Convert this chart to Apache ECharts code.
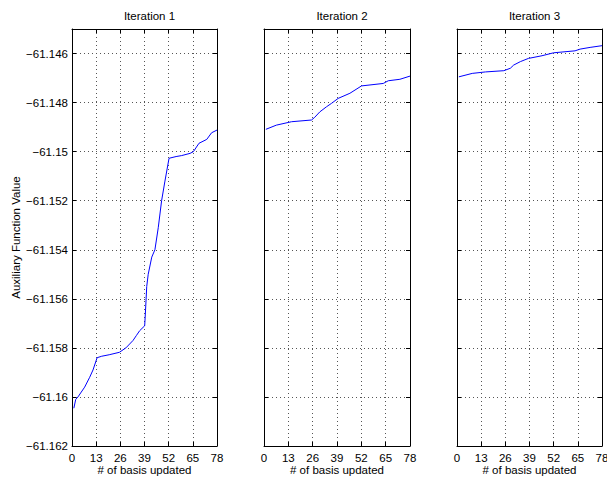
<!DOCTYPE html>
<html>
<head>
<meta charset="utf-8">
<title>Auxiliary Function Value per Iteration</title>
<script src="https://cdn.jsdelivr.net/npm/echarts@6/dist/echarts.min.js"></script>
<style>
  html, body { margin: 0; padding: 0; background: #fff; }
  #chart { width: 607px; height: 477px; }
</style>
</head>
<body>
<div id="chart"></div>
<script>
// Panel titles and axis text
const panelTitles = ['Iteration 1', 'Iteration 2', 'Iteration 3'];
const xAxisTitle = '# of basis updated';
const yAxisTitle = 'Auxiliary Function Value';

// Shared axis ranges
const xTicks = [0, 13, 26, 39, 52, 65, 78];
const yMin = -61.162;
const yMax = -61.145;
const yStep = 0.002;

// Iteration 1: number of bases updated vs. objective value
const iter1X = [1, 2, 3.2, 5, 6.8, 9.5, 11.3, 13.5, 16, 20, 25.5, 29, 32.8, 34.6, 36.4, 39.1, 39.4, 40.2, 41, 42.9, 44.6, 46.4, 48.2, 50, 52.2, 56, 59, 63.5, 65.3, 68.3, 72.5, 75.1, 78];
const iter1Y = [-61.16046, -61.1601, -61.16, -61.1598, -61.1596, -61.1592, -61.1589, -61.1584, -61.15834, -61.15828, -61.15818, -61.158, -61.1577, -61.1575, -61.1573, -61.1571, -61.1567, -61.1555, -61.155, -61.1543, -61.154, -61.1531, -61.152, -61.1512, -61.15027, -61.1502, -61.15016, -61.15007, -61.15, -61.14966, -61.1495, -61.14923, -61.14912];

// Iteration 2
const iter2X = [1, 6.6, 14.7, 25.4, 27.1, 29.8, 33.4, 36.1, 39.6, 45.9, 52.1, 63.7, 66.4, 72.6, 78];
const iter2Y = [-61.14909, -61.14892, -61.14878, -61.14871, -61.1486, -61.14838, -61.14817, -61.14803, -61.14783, -61.14762, -61.14732, -61.14722, -61.14711, -61.14705, -61.14692];

// Iteration 3
const iter3X = [1, 8.2, 15.3, 25.2, 28.7, 30.5, 34.1, 38.4, 45.7, 52, 63.5, 66.2, 71.6, 78];
const iter3Y = [-61.14695, -61.14681, -61.14675, -61.1467, -61.1466, -61.14647, -61.14633, -61.1462, -61.14609, -61.14597, -61.14589, -61.14582, -61.14575, -61.14568];

const seriesX = [iter1X, iter2X, iter3X];
const seriesY = [iter1Y, iter2Y, iter3Y];

const FONT = '"Liberation Sans", Arial, Helvetica, sans-serif';
const FONT_SIZE = 11.5;

// Plot boxes (left, width) for the three panels
const panelLeft = [72, 264, 457];
const panelWidth = [145, 146, 145];
const panelTop = 29;
const panelHeight = 417;

function yLabel(v) {
  const k = Math.round((v - yMin) / yStep);
  if (Math.abs(yMin + k * yStep - v) > 1e-7) return '';
  const s = String(Number(Math.abs(v).toFixed(3)));
  return (v < 0 ? '\u2212' : '') + s;
}

const tickStyle = { inside: true, length: 4, lineStyle: { color: '#000', width: 1 } };
const axisLineStyle = { show: true, onZero: false, lineStyle: { color: '#000', width: 1 } };
const gridDots = { show: true, lineStyle: { color: '#555', width: 1, type: [1, 3] } };

const grids = [], xAxes = [], yAxes = [], series = [], titles = [];

for (let i = 0; i < 3; i++) {
  // fixed plot box; labels may sit outside it without shrinking the grid
  grids.push({
    left: panelLeft[i], top: panelTop, width: panelWidth[i], height: panelHeight,
    containLabel: false, outerBoundsMode: 'none'
  });

  titles.push({
    text: panelTitles[i],
    left: panelLeft[i] + panelWidth[i] / 2,
    top: 5,
    textAlign: 'center',
    textStyle: { fontFamily: FONT, fontSize: FONT_SIZE, fontWeight: 'normal', color: '#000' }
  });

  // bottom x axis with labels and dotted grid
  xAxes.push({
    type: 'value', gridIndex: i, position: 'bottom',
    min: xTicks[0], max: xTicks[xTicks.length - 1], interval: xTicks[1] - xTicks[0],
    axisLine: axisLineStyle, axisTick: tickStyle, splitLine: gridDots,
    axisLabel: { color: '#000', fontFamily: FONT, fontSize: FONT_SIZE, margin: 6 },
    name: xAxisTitle, nameLocation: 'middle', nameGap: 18, nameMoveOverlap: false,
    nameTextStyle: { color: '#000', fontFamily: FONT, fontSize: FONT_SIZE }
  });
  // top mirror axis (ticks only)
  xAxes.push({
    type: 'value', gridIndex: i, position: 'top',
    min: xTicks[0], max: xTicks[xTicks.length - 1], interval: xTicks[1] - xTicks[0],
    axisLine: axisLineStyle, axisTick: tickStyle, splitLine: { show: false },
    axisLabel: { show: false }
  });

  // left y axis
  const leftY = {
    type: 'value', gridIndex: i, position: 'left',
    min: yMin, max: yMax, interval: yStep,
    axisLine: axisLineStyle, axisTick: tickStyle, splitLine: gridDots,
    axisLabel: { show: i === 0, color: '#000', fontFamily: FONT, fontSize: FONT_SIZE, margin: 4, formatter: yLabel }
  };
  if (i === 0) {
    leftY.name = yAxisTitle;
    leftY.nameLocation = 'middle';
    leftY.nameGap = 50;
    leftY.nameMoveOverlap = false;
    leftY.nameTextStyle = { color: '#000', fontFamily: FONT, fontSize: FONT_SIZE };
  }
  yAxes.push(leftY);
  // right mirror axis (ticks only)
  yAxes.push({
    type: 'value', gridIndex: i, position: 'right',
    min: yMin, max: yMax, interval: yStep,
    axisLine: axisLineStyle, axisTick: tickStyle, splitLine: { show: false },
    axisLabel: { show: false }
  });

  series.push({
    type: 'line',
    xAxisIndex: i * 2,
    yAxisIndex: i * 2,
    data: seriesX[i].map((x, j) => [x, seriesY[i][j]]),
    showSymbol: false,
    symbol: 'none',
    lineStyle: { color: '#0000ff', width: 1 },
    animation: false,
    silent: true
  });
}

const chart = echarts.init(document.getElementById('chart'), null, { renderer: 'svg' });
chart.setOption({
  animation: false,
  backgroundColor: '#fff',
  title: titles,
  grid: grids,
  xAxis: xAxes,
  yAxis: yAxes,
  series: series
});
</script>
</body>
</html>
